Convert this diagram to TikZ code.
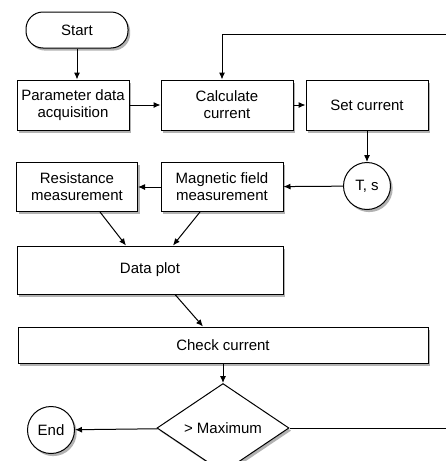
\documentclass[tikz,border=0pt]{standalone}
\usepackage{fontspec}
\setmainfont{Liberation Sans}
\usetikzlibrary{positioning, arrows.meta, shapes.geometric, shadows}
\tikzset{
	->, % every connector gets a head
	>={Latex[length=7pt,width=6pt]}, % filled heads
	every node/.style={font=\fontsize{15}{17}\selectfont}, % text size of all labels
	shade/.style={drop shadow={shadow xshift=2.2pt, shadow yshift=-2.6pt, fill=black!60, opacity=0.5}}, % soft grey shadow
	box/.style={draw, fill=white, align=center, inner sep=2pt, shade}, % process steps
	term/.style={box, rounded corners=17pt, minimum width=102pt, minimum height=36pt}, % start pill
	dot/.style={box, circle, minimum size=47pt, inner sep=0pt}, % small round nodes
	test/.style={box, diamond, minimum width=132pt, minimum height=62pt, inner sep=0pt}, % the decision
}

\begin{document}
\begin{tikzpicture}[x=1pt, y=-1pt, line width=1pt]
	\useasboundingbox (0,0) rectangle (446,461);
	\clip (0,0) rectangle (446,461);

	\node[term] (start) at (77,30) {Start};
	\node[box, minimum width=112pt, minimum height=50pt] (param) at (73,105) {Parameter data\\acquisition};
	\node[box, minimum width=132pt, minimum height=50pt] (calc) at (227,105) {Calculate\\current};
	\node[box, minimum width=122pt, minimum height=50pt] (setc) at (367,105) {Set current};
	\node[dot] (ts) at (367,186) {T, s};
	\node[box, minimum width=122pt, minimum height=49pt] (magn) at (222,187) {Magnetic field\\measurement};
	\node[box, minimum width=121pt, minimum height=49pt] (resi) at (77,187) {Resistance\\measurement};
	\node[box, minimum width=266pt, minimum height=48pt] (plot) at (150,270) {Data plot};
	\node[box, minimum width=410pt, minimum height=36pt] (check) at (223,345) {Check current};
	\node[test] (maxi) at (223,428) {> Maximum};
	\node[dot] (stop) at (51,430) {End};

	% way back to the current calculation, runs past the right border
	\coordinate (back) at (470,34);

	\draw (start.south) -- (start.south |- param.north);
	\draw (param) -- (calc);
	\draw (calc) -- (setc);
	\draw (setc) -- (ts);
	\draw (ts) -- (magn);
	\draw (magn) -- (resi);
	\draw ([xshift=23pt]resi.south) -- ([xshift=-24pt]plot.north);
	\draw ([xshift=-22pt]magn.south) -- ([xshift=23pt]plot.north);
	\draw ([xshift=25pt]plot.south) -- ([xshift=-20pt]check.north);
	\draw (check) -- (maxi);
	\draw (maxi) -- (stop);
	\draw (maxi.east) -| (back) -| ([xshift=-5pt]calc.north);
\end{tikzpicture}
\end{document}
